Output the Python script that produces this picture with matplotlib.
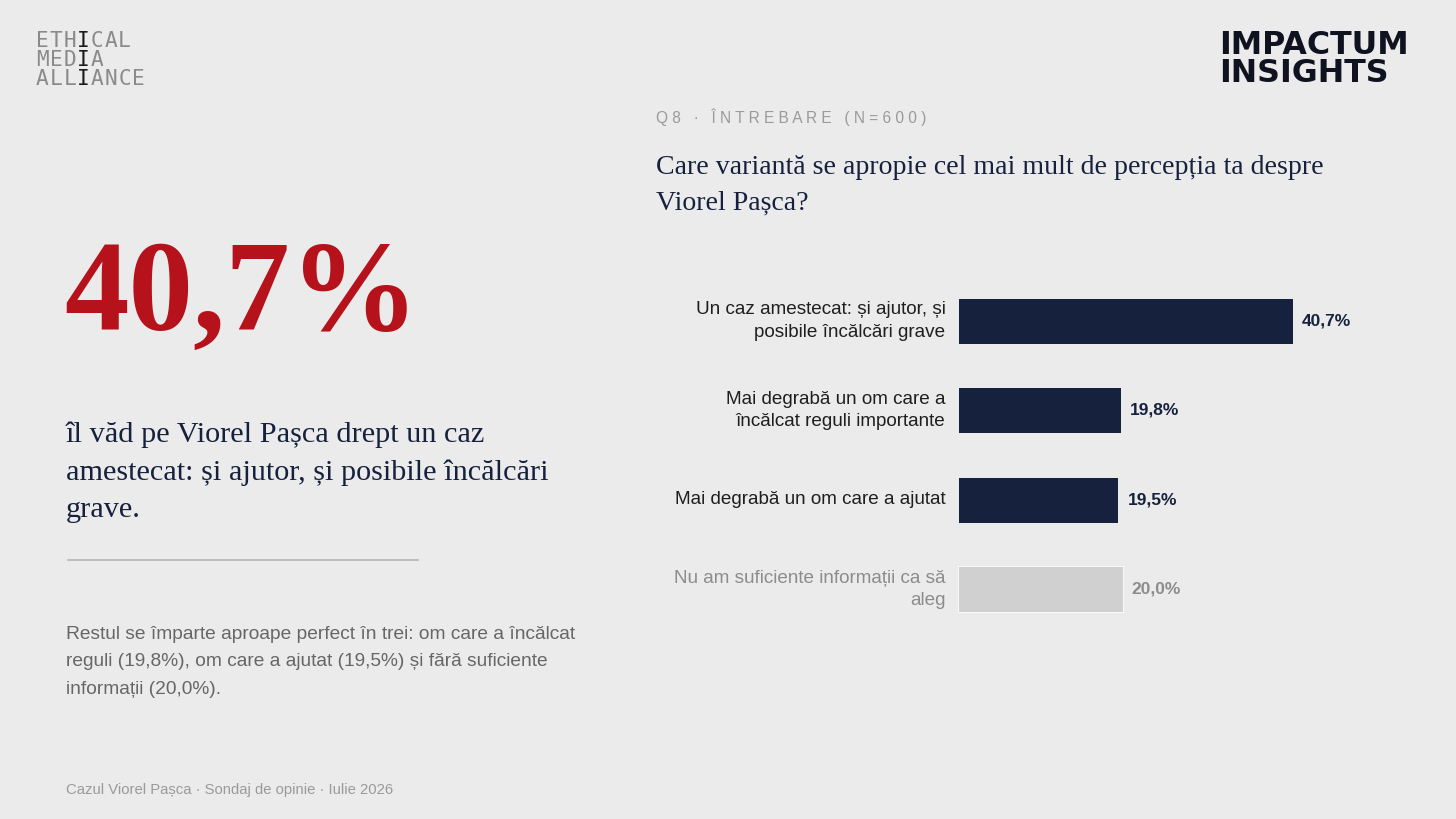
import matplotlib
matplotlib.use("Agg")
import matplotlib.pyplot as plt

plt.rcParams['font.family'] = ['Liberation Sans', 'DejaVu Sans']

# date
categories = [
    "Un caz amestecat: și ajutor, și\nposibile încălcări grave",
    "Mai degrabă un om care a\nîncălcat reguli importante",
    "Mai degrabă un om care a ajutat",
    "Nu am suficiente informații ca să\naleg",
]
values = [40.7, 19.8, 19.5, 20.0]
value_labels = ["40,7%", "19,8%", "19,5%", "20,0%"]
highlight = [True, True, True, False]

BG = '#ebebeb'
NAVY = '#16213d'
RED = '#b5121b'
GRAY_BAR = '#d0d0d0'
GRAY_TXT = '#8c8c8c'

W, H = 1456, 819
fig = plt.figure(figsize=(W / 100, H / 100), dpi=100, facecolor=BG)


def px(x, y):
    return x / W, 1 - y / H


# ---- logo stanga sus: litere spatiate, coloana de "I" (pozitia 3) inchisa
for i, word in enumerate(["ETHICAL", "MEDIA", "ALLIANCE"]):
    for k, ch in enumerate(word):
        fig.text(*px(36 + k * 13.7, 41 + i * 19), ch, family='DejaVu Sans Mono',
                 fontsize=15.2, color='#1a1a1a' if k == 3 else '#8a8a8a',
                 va='center', ha='left')

# ---- logo dreapta sus
fig.text(*px(1219, 45), "IMPACTUM", family='DejaVu Sans', weight='heavy',
         fontsize=22.8, color='#0f1320', ha='left', va='center')
fig.text(*px(1219, 73), "INSIGHTS", family='DejaVu Sans', weight='heavy',
         fontsize=22.8, color='#0f1320', ha='left', va='center')

# ---- coloana stanga
fig.text(*px(64, 330), "40,7%", family='Liberation Serif', weight='bold',
         fontsize=93, color=RED, ha='left', va='baseline')
fig.text(*px(66, 472), "îl văd pe Viorel Pașca drept un caz\n"
         "amestecat: și ajutor, și posibile încălcări\ngrave.",
         family='Liberation Serif', fontsize=21.8, color=NAVY,
         ha='left', va='center', linespacing=1.55)
fig.add_artist(plt.Line2D([68 / W, 418 / W], [1 - 560 / H] * 2,
                          color='#b4b4b4', lw=1.2))
fig.text(*px(66, 662), "Restul se împarte aproape perfect în trei: om care a încălcat\n"
         "reguli (19,8%), om care a ajutat (19,5%) și fără suficiente\n"
         "informații (20,0%).", fontsize=13.8, color='#666666',
         ha='left', va='center', linespacing=1.82)
fig.text(*px(66, 790), "Cazul Viorel Pașca · Sondaj de opinie · Iulie 2026",
         fontsize=10.7, color='#9a9a9a', ha='left', va='center')

# ---- coloana dreapta: intrebare
fig.text(*px(656, 117), "Q 8   ·   Î N T R E B A R E   ( N = 6 0 0 )",
         fontsize=11.2, color='#9a9a9a', ha='left', va='center')
fig.text(*px(656, 185), "Care variantă se apropie cel mai mult de percepția ta despre\n"
         "Viorel Pașca?", family='Liberation Serif', fontsize=20.1,
         color=NAVY, ha='left', va='center', linespacing=1.56)

# ---- grafic bare
ax = fig.add_axes([958 / W, 0.2256, 411.5 / W, 0.4371])
ax.set_facecolor(BG)
ypos = list(range(len(values)))
colors = [NAVY if h else GRAY_BAR for h in highlight]
ax.barh(ypos, values, height=0.514, color=colors, edgecolor='white', linewidth=0.6)
ax.set_xlim(0, 50)
ax.set_ylim(3.5, -0.5)
ax.axis('off')

for y, v, lab, cat, h in zip(ypos, values, value_labels, categories, highlight):
    ax.annotate(cat, xy=(0, y), xytext=(-9, 0), textcoords='offset points',
                ha='right', va='center', fontsize=13.6, linespacing=1.42,
                color='#1f1f1f' if h else GRAY_TXT)
    ax.annotate(lab, xy=(v, y), xytext=(6.5, 0), textcoords='offset points',
                ha='left', va='center', fontsize=12.5, weight='bold',
                color=NAVY if h else GRAY_TXT)

fig.savefig('out.png', dpi=100, facecolor=BG)
